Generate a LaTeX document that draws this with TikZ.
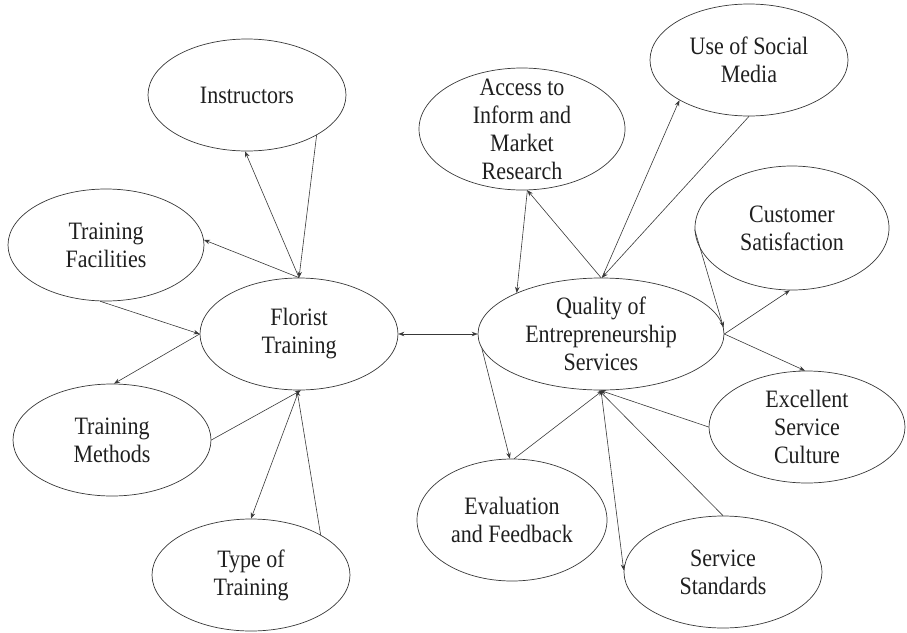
\documentclass[tikz,border=0pt]{standalone}
\usepackage{fontspec}
\setmainfont[FakeStretch=0.88]{Liberation Serif}
\usetikzlibrary{shapes.geometric,arrows.meta}
\begin{document}
\begin{tikzpicture}[x=1pt,y=-1pt,
  oval/.style 2 args={ellipse, draw=black!78, line width=0.7pt, inner sep=0pt,
    minimum width=#1pt, minimum height=#2pt},
  txt/.style={inner sep=0pt, align=center, text=black!88,
    font=\fontsize{25}{28}\selectfont},
  link/.style={draw=black!78, line width=0.6pt, -{Stealth[length=6pt,width=4.5pt]}},
  both/.style={draw=black!78, line width=0.6pt, {Stealth[length=6pt,width=4.5pt]}-{Stealth[length=6pt,width=4.5pt]}},
]
\useasboundingbox (0,0) rectangle (907,632);
% ---- ellipses
\node[oval={198}{112}] (ins) at (247,95) {};
\node[oval={196}{112}] (fac) at (106,245) {};
\node[oval={198}{112}] (flo) at (299,334) {};
\node[oval={198}{112}] (met) at (112,440) {};
\node[oval={198}{112}] (typ) at (251,575) {};
\node[oval={206}{122}] (acc) at (522,129) {};
\node[oval={198}{112}] (soc) at (749,60) {};
\node[oval={194}{124}] (cus) at (792,228) {};
\node[oval={246}{112}] (qua) at (601,334) {};
\node[oval={196}{112}] (exc) at (807,427) {};
\node[oval={190}{122}] (eva) at (512,520) {};
\node[oval={198}{112}] (sta) at (723,572) {};
% ---- texts
\node[txt] (ins-t) at (ins) {Instructors};
\node[txt] (fac-t) at (fac) {Training\\Facilities};
\node[txt] (flo-t) at (flo) {Florist\\Training};
\node[txt] (met-t) at (met) {Training\\Methods};
\node[txt] (typ-t) at (typ) {Type of\\Training};
\node[txt] (acc-t) at (acc) {Access to\\Inform and\\Market\\Research};
\node[txt] (soc-t) at (soc) {Use of Social\\Media};
\node[txt] (cus-t) at (cus) {Customer\\Satisfaction};
\node[txt] (qua-t) at (qua) {Quality of\\Entrepreneurship\\Services};
\node[txt] (exc-t) at (exc) {Excellent\\Service\\Culture};
\node[txt] (eva-t) at (eva) {Evaluation\\and Feedback};
\node[txt] (sta-t) at (sta) {Service\\Standards};
% ---- left connectors
\draw[link] (flo.90) -- (ins.268);
\draw[link] (ins.330) -- (flo.90);
\draw[link] (flo.90) -- (fac.3);
\draw[link] (fac.264) -- (flo.180);
\draw[link] (flo.180) -- (met.88);
\draw[link] (met.0) -- (flo.272);
\draw[link] (flo.270) -- (typ.90);
\draw[link] (typ.30) -- (flo.268);
\draw[both] (flo.0) -- (qua.180);
% ---- right connectors
\draw[link] (qua.90) -- (acc.275);
\draw[link] (acc.275) -- (qua.154);
\draw[link] (qua.89) -- (soc.210);
\draw[link] (soc.270) -- (qua.89);
\draw[link] (cus.181) -- (qua.3);
\draw[link] (qua.0) -- (cus.268);
\draw[link] (qua.0) -- (exc.92);
\draw[link] (exc.180) -- (qua.269);
\draw[link] (qua.187) -- (eva.92);
\draw[link] (eva.88) -- (qua.272);
\draw[link] (qua.270) -- (sta.179);
\draw[link] (sta.90) -- (qua.268);
\end{tikzpicture}
\end{document}
